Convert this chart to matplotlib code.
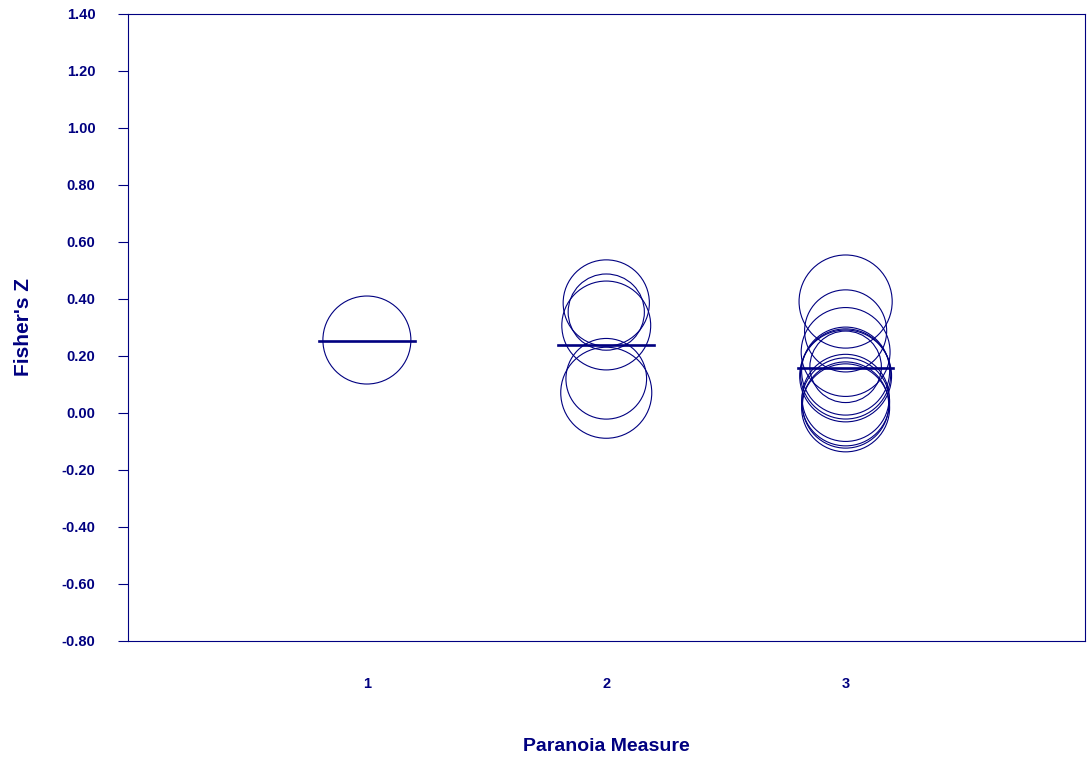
import matplotlib
matplotlib.use("Agg")
import matplotlib.pyplot as plt
import numpy as np

# Fisher's Z per study, grouped by paranoia measure
measure_1_z = [0.256]
measure_1_w = [1.00]

measure_2_z = [0.386, 0.354, 0.307, 0.120, 0.071]
measure_2_w = [0.96, 0.75, 1.02, 0.84, 1.07]

measure_3_z = [0.391, 0.288, 0.214, 0.162, 0.147, 0.137, 0.130, 0.053, 0.039, 0.028, 0.018]
measure_3_w = [1.12, 0.87, 1.02, 0.66, 1.00, 1.05, 1.09, 0.98, 1.00, 0.96, 1.00]

# pooled estimate for each measure
pooled_z = [0.253, 0.239, 0.157]

measures = [1, 2, 3]
y_ticks = [-0.80, -0.60, -0.40, -0.20, 0.00, 0.20, 0.40, 0.60, 0.80, 1.00, 1.20, 1.40]

NAVY = "#000080"
plt.rcParams["font.family"] = ["Liberation Sans", "DejaVu Sans"]

fig = plt.figure(figsize=(10.9, 7.6), dpi=100)
ax = fig.add_axes([0.117, 0.1566, 0.8784, 0.825])

# base marker diameter in points for weight 1.0
base_d = 88 * 0.72
groups = [(measure_1_z, measure_1_w), (measure_2_z, measure_2_w), (measure_3_z, measure_3_w)]
for m, (zs, ws) in zip(measures, groups):
    sizes = [base_d ** 2 * w for w in ws]
    ax.scatter([m] * len(zs), zs, s=sizes, facecolors="none",
               edgecolors=NAVY, linewidths=0.8, zorder=2)

for m, p in zip(measures, pooled_z):
    ax.plot([m - 0.2, m + 0.2], [p, p], color=NAVY, lw=1.9, zorder=3)

ax.set_xlim(0, 4)
ax.set_ylim(-0.80, 1.40)
ax.set_yticks(y_ticks)
ax.set_yticklabels([f"{v:.2f}" for v in y_ticks])
ax.set_xticks(measures)
ax.set_xticklabels([str(m) for m in measures])

ax.tick_params(axis="y", direction="out", length=7, width=0.8, color=NAVY,
               pad=16, labelsize=10.5, labelcolor=NAVY)
ax.tick_params(axis="x", length=0, pad=26, labelsize=10.5, labelcolor=NAVY)
for lab in ax.get_xticklabels() + ax.get_yticklabels():
    lab.set_fontweight("bold")

for sp in ax.spines.values():
    sp.set_color(NAVY)
    sp.set_linewidth(0.8)

ax.set_xlabel("Paranoia Measure", fontsize=14, fontweight="bold", color=NAVY, labelpad=34)
ax.set_ylabel("Fisher's Z", fontsize=15, fontweight="bold", color=NAVY, labelpad=21)

fig.savefig("out.png", dpi=100)
